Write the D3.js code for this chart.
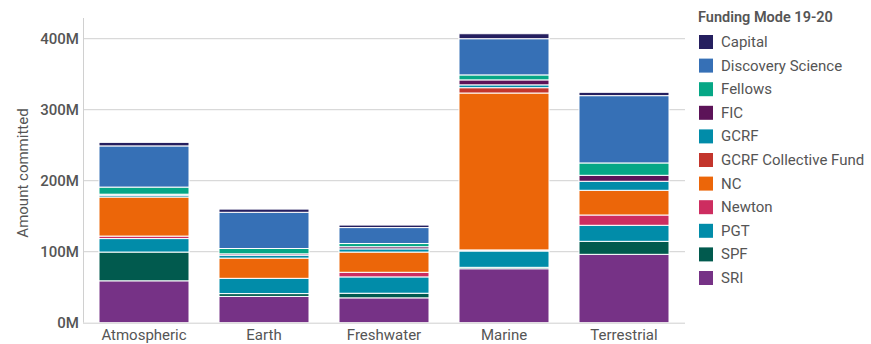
<!DOCTYPE html>
<html>
<head>
<meta charset="utf-8">
<script src="https://cdn.jsdelivr.net/npm/d3@7"></script>
<style>
  html, body { margin: 0; padding: 0; background: #fff; }
  svg { display: block; font-family: Roboto, "Noto Sans", sans-serif; }
</style>
</head>
<body>
<svg id="chart" width="871" height="344"></svg>
<script>
const categories = ["Atmospheric", "Earth", "Freshwater", "Marine", "Terrestrial"];
// stacking order bottom -> top
const modes = ["SRI", "SPF", "PGT", "Newton", "NC", "GCRF Collective Fund", "GCRF", "FIC", "Fellows", "Discovery Science", "Capital"];
// values in millions, one array per category, in the order of `modes`
const atmospheric = [59, 40.5, 19, 3.5, 55, 0, 2.5, 1.5, 10, 58, 5];
const earth       = [37, 4, 21.5, 0, 28.5, 0, 4, 2, 7.5, 51, 4.5];
const freshwater  = [35, 6.5, 23, 6.5, 28.5, 0, 4.5, 3, 4.5, 22.5, 3.5];
const marine      = [76, 2, 23, 1.5, 221, 7.5, 4, 7, 7, 51, 7];
const terrestrial = [96.3, 18.3, 22.6, 14.5, 34.8, 0, 12.7, 8.4, 17.4, 94.8, 4.7];
const legendOrder = ["Capital", "Discovery Science", "Fellows", "FIC", "GCRF", "GCRF Collective Fund", "NC", "Newton", "PGT", "SPF", "SRI"];
const colors = ["#251f5f", "#3670b6", "#06a786", "#5c1358", "#018ca9", "#c3352c", "#ec6609", "#cd2d60", "#018ca9", "#015a4e", "#763286"];
const yTicks = [0, 100, 200, 300, 400];
const legendTitle = "Funding Mode 19-20";
const yTitle = "Amount committed";

const seriesByCat = [atmospheric, earth, freshwater, marine, terrestrial];
const rows = categories.map((c, i) => {
  const r = { category: c };
  modes.forEach((m, j) => r[m] = seriesByCat[i][j]);
  return r;
});
const color = d3.scaleOrdinal().domain(legendOrder).range(colors);

const svg = d3.select("#chart");
const x = d3.scaleBand().domain(categories).range([84, 684]).paddingInner(0.25).paddingOuter(0.125);
const y = d3.scaleLinear().domain([0, 400]).range([322.7, 38.7]);

// gridlines
svg.append("g").selectAll("line").data(yTicks.filter(t => t > 0)).join("line")
  .attr("x1", 83).attr("x2", 685)
  .attr("y1", d => y(d)).attr("y2", d => y(d))
  .attr("stroke", "#d0d0d0").attr("stroke-width", 1);

// left axis line
svg.append("line").attr("x1", 83.5).attr("x2", 83.5).attr("y1", 18).attr("y2", y(0))
  .attr("stroke", "#d0d0d0");

// y tick labels
const yAxis = d3.axisLeft(y).tickValues(yTicks).tickFormat(d => d + "M").tickSize(0).tickPadding(4);
const ya = svg.append("g").attr("transform", "translate(83,0)").call(yAxis);
ya.select(".domain").remove();
ya.selectAll("text").attr("font-size", 15).attr("font-weight", 500).attr("fill", "#555")
  .attr("font-family", "Roboto, sans-serif");

// stacks
const stack = d3.stack().keys(modes);
const layers = stack(rows);
svg.append("g").selectAll("g").data(layers).join("g")
  .attr("fill", d => color(d.key))
  .selectAll("rect").data(d => d).join("rect")
  .attr("x", d => x(d.data.category))
  .attr("width", x.bandwidth())
  .attr("y", d => y(d[1]))
  .attr("height", d => Math.max(0, y(d[0]) - y(d[1])))
  .attr("stroke", d => (d[1] - d[0]) > 0 ? "#fff" : "none")
  .attr("stroke-width", 1);

// baseline
svg.append("line").attr("x1", 83).attr("x2", 685).attr("y1", y(0) + 0.5).attr("y2", y(0) + 0.5)
  .attr("stroke", "#cfcfcf");

// x axis labels
const xAxis = d3.axisBottom(x).tickSize(0).tickPadding(6);
const xa = svg.append("g").attr("transform", `translate(0,${y(0) + 1})`).call(xAxis);
xa.select(".domain").remove();
xa.selectAll("text").attr("font-size", 15).attr("fill", "#555").attr("font-family", "Roboto, sans-serif");

// y title
svg.append("text").attr("transform", `translate(28,173) rotate(-90)`)
  .attr("text-anchor", "middle").attr("font-size", 15).attr("fill", "#555")
  .text(yTitle);

// legend
const lg = svg.append("g");
lg.append("text").attr("x", 698).attr("y", 22).attr("font-size", 14.5).attr("font-weight", 600)
  .attr("fill", "#555").text(legendTitle);
const items = lg.selectAll("g.item").data(legendOrder).join("g").attr("class", "item")
  .attr("transform", (d, i) => `translate(699,${35 + i * 23.6})`);
items.append("rect").attr("width", 14).attr("height", 14).attr("fill", d => color(d));
items.append("text").attr("x", 22).attr("y", 12).attr("font-size", 15).attr("fill", "#555").text(d => d);
</script>
</body>
</html>
